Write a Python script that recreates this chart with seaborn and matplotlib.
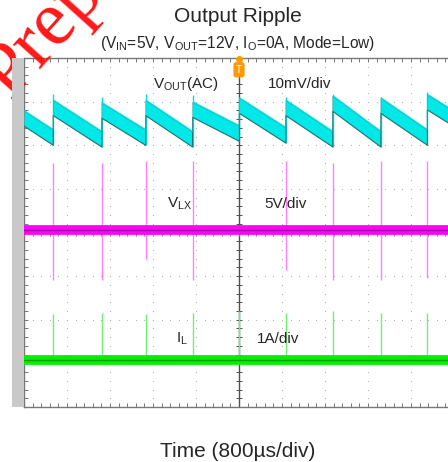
import numpy as np
import matplotlib
matplotlib.use('Agg')
import matplotlib.pyplot as plt
import seaborn as sns
from matplotlib.patches import Rectangle

# Scope capture, all values in screen divisions (x: 0..10, y: 0..8)
jump_t = [0.68, 1.81, 2.83, 3.92, 5.01, 6.09, 7.18, 8.30, 9.38]

# Vout(AC) ripple: level just after each jump and just before the next one
vout_start = [6.63, 6.87, 6.81, 6.87, 6.83, 6.92, 6.87, 6.97, 6.92, 7.00]
vout_end = [6.19, 6.15, 6.19, 6.15, 6.28, 6.24, 6.15, 6.15, 6.19, 6.62]
vout_spike = [7.18, 7.10, 7.18, 7.15, 7.10, 7.10, 7.18, 7.10, 7.22]

# V_LX: flat trace plus switching spikes
vlx_level = 4.06
vlx_spike_t = [0.68, 1.81, 2.83, 3.92, 6.09, 7.18, 8.30, 9.38]
vlx_spike_top = [5.60, 5.60, 5.65, 5.65, 5.65, 5.60, 5.65, 5.65]
vlx_spike_bot = [2.90, 2.92, 3.40, 2.92, 3.15, 2.92, 2.92, 2.95]

# I_L: flat trace plus short current pulses
il_level = 1.08
il_spike_top = [2.14, 2.16, 2.14, 2.16, 2.20, 2.16, 2.20, 2.16, 2.16]

sns.set_style('white')
plt.rcParams['font.family'] = ['Liberation Sans', 'DejaVu Sans']
plt.rcParams['mathtext.fontset'] = 'custom'
plt.rcParams['mathtext.rm'] = 'Liberation Sans'
plt.rcParams['mathtext.it'] = 'Liberation Sans:italic'

fig = plt.figure(figsize=(4.48, 4.62), dpi=100)
# screen runs past the right edge of the picture
ax = fig.add_axes([24 / 448, 55 / 462, 430 / 448, 349 / 462])
ax.set_xlim(0, 10)
ax.set_ylim(0, 8)

# grey strip left of the screen
fig.add_artist(Rectangle((12 / 448, 55 / 462), 12 / 448, 349 / 462,
                         transform=fig.transFigure, color='#c9c9c9', lw=0))

# dotted graticule
grid_c = '#b0b0b0'
dots_x = np.arange(0, 10.01, 0.2)
dots_y = np.arange(0, 8.01, 0.2)
for gy in range(1, 8):
    if gy != 4:
        ax.plot(dots_x, np.full_like(dots_x, gy), ls='none', marker='s', ms=0.75, mew=0, color=grid_c, zorder=1)
for gx in range(1, 10):
    if gx != 5:
        ax.plot(np.full_like(dots_y, gx), dots_y, ls='none', marker='s', ms=0.75, mew=0, color=grid_c, zorder=1)

# centre cross with small ticks
ax.axhline(4, color='#7a7a7a', lw=0.8, zorder=1)
ax.axvline(5, color='#505050', lw=1.0, zorder=1)
ax.plot(dots_x, np.full_like(dots_x, 4), ls='none', marker='|', ms=4, mew=0.7, color='#7a7a7a', zorder=1)
ax.plot(np.full_like(dots_y, 5), dots_y, ls='none', marker='_', ms=4, mew=0.7, color='#505050', zorder=1)

ax.spines['right'].set_visible(False)
for s in ['top', 'bottom', 'left']:
    ax.spines[s].set_color('#777777')
    ax.spines[s].set_linewidth(1.0)
ax.set_xticks(dots_x)
ax.set_yticks(dots_y)
ax.tick_params(which='both', direction='in', length=3, width=0.7, color='#777777',
               top=True, bottom=True, left=True, right=False,
               labelbottom=False, labelleft=False)

# Vout(AC) sawtooth band
bounds = [0] + jump_t + [10]
vx, vy = [], []
for i in range(len(vout_start)):
    vx += [bounds[i], bounds[i + 1]]
    vy += [vout_start[i], vout_end[i]]
vx = np.array(vx)
vy = np.array(vy)
half = 0.19
ax.vlines(jump_t, np.array(vout_end[:-1]) - half, vout_spike, color='#00e0e0', lw=1.0, zorder=3)
ax.fill_between(vx, vy - half, vy + half, color='#00e8e8', lw=0, zorder=3)
sns.lineplot(x=vx, y=vy - half, ax=ax, color='#2a7070', lw=0.8, sort=False, estimator=None, zorder=4)
sns.lineplot(x=vx, y=vy + half - 0.04, ax=ax, color='#40a8a8', lw=0.4, sort=False, estimator=None, zorder=4)

# V_LX
ax.vlines(vlx_spike_t, vlx_spike_bot, vlx_spike_top, color='#ff80ff', lw=1.0, zorder=3)
sns.lineplot(x=[0, 10], y=[vlx_level, vlx_level], ax=ax, color='#ff00ff', lw=7, zorder=4)
sns.lineplot(x=[0, 10], y=[vlx_level, vlx_level], ax=ax, color='#a000a0', lw=1.0, zorder=5)

# I_L
ax.vlines(jump_t, il_level, il_spike_top, color='#70ee70', lw=1.0, zorder=3)
sns.lineplot(x=[0, 10], y=[il_level, il_level], ax=ax, color='#00f000', lw=7, zorder=4)
sns.lineplot(x=[0, 10], y=[il_level, il_level], ax=ax, color='#00a000', lw=1.0, zorder=5)

# channel markers
ax.text(-0.14, 6.51, '2', color='white', fontsize=7, ha='center', va='center', clip_on=False,
        bbox=dict(boxstyle='round,pad=0.15', fc='#20d8e0', ec='#20d8e0'))
ax.text(-0.14, 3.00, '3', color='#c020c0', fontsize=7, ha='center', va='center', clip_on=False,
        bbox=dict(boxstyle='round,pad=0.15', fc='white', ec='#c020c0', lw=0.8))
ax.text(-0.14, 1.05, '4', color='#10a010', fontsize=7, ha='center', va='center', clip_on=False,
        bbox=dict(boxstyle='round,pad=0.15', fc='white', ec='#10a010', lw=0.8))

# trigger marker
ax.plot([5], [7.98], marker='o', ms=4, color='#ff9900', clip_on=False, zorder=6)
ax.text(5, 7.73, 'T', color='white', fontsize=7, ha='center', va='center', zorder=6,
        bbox=dict(boxstyle='round,pad=0.2', fc='#ff9900', ec='#ff9900'))

# trace labels
ax.text(3.0, 7.32, r'$\mathrm{V_{OUT}}$(AC)', fontsize=11, ha='left', va='baseline', zorder=7)
ax.text(5.67, 7.32, '10mV/div', fontsize=11, ha='left', va='baseline', zorder=7)
ax.text(3.33, 4.56, r'$\mathrm{V_{LX}}$', fontsize=11, ha='left', va='baseline', zorder=7)
ax.text(5.6, 4.56, '5V/div', fontsize=11, ha='left', va='baseline', zorder=7)
ax.text(3.53, 1.47, r'$\mathrm{I_{L}}$', fontsize=11, ha='left', va='baseline', zorder=7)
ax.text(5.42, 1.47, '1A/div', fontsize=11, ha='left', va='baseline', zorder=7)

fig.text(238 / 448, 1 - 22 / 462, 'Output Ripple', fontsize=15, ha='center', va='baseline')
fig.text(238 / 448, 1 - 48 / 462,
         r'($\mathrm{V_{IN}}$=5V, $\mathrm{V_{OUT}}$=12V, $\mathrm{I_{O}}$=0A, Mode=Low)',
         fontsize=11.2, ha='center', va='baseline')
fig.text(238 / 448, 1 - 457 / 462, 'Time (800µs/div)', fontsize=15, ha='center', va='baseline')

# watermark in the corner
fig.text(10 / 448, 1 - 100 / 462, 'Prep', fontsize=56, color='red', alpha=0.9,
         family=['Liberation Serif', 'DejaVu Serif'], rotation=48, rotation_mode='anchor',
         ha='left', va='baseline', zorder=0)

fig.savefig('out.png', dpi=100)
